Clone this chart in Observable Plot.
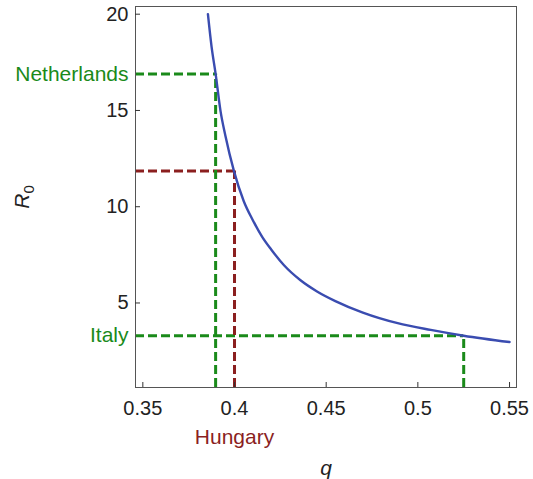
<!DOCTYPE html>
<html><head><meta charset="utf-8">
<script src="https://cdn.jsdelivr.net/npm/d3@7"></script>
<script src="https://cdn.jsdelivr.net/npm/@observablehq/plot@0.6"></script>
<style>body{margin:0;background:#fff} #chart svg{display:block}</style>
</head><body><div id="chart"></div>
<script>
// curve values
const curveQ  = [0.3855, 0.3875, 0.3897, 0.3924, 0.3950, 0.3997, 0.405, 0.410, 0.415, 0.420, 0.427, 0.436, 0.445, 0.455, 0.470, 0.489, 0.507, 0.525, 0.550];
const curveR0 = [20.0, 18.3, 16.9, 14.95, 13.7, 11.85, 10.3, 9.3, 8.45, 7.78, 6.96, 6.18, 5.6, 5.1, 4.5, 3.95, 3.6, 3.3, 2.97];

// countries
const countries = ["Netherlands", "Hungary", "Italy"];
const countryQ  = [0.3897, 0.400, 0.525];
const countryR0 = [16.9, 11.85, 3.3];
const countryColor = ["#1a8a1a", "#8b1f1f", "#1a8a1a"];
const labelSide = ["left", "bottom", "left"];

// axes
const xTicks = [0.35, 0.4, 0.45, 0.5, 0.55];
const yTicks = [5, 10, 15, 20];
const xDomain = [0.346, 0.5538];
const yDomain = [0.61, 20.4];

const curve = curveQ.map((q, i) => ({q, r: curveR0[i]}));
const pts = countries.map((name, i) => ({name, q: countryQ[i], r: countryR0[i], color: countryColor[i], side: labelSide[i]}));

const chart = Plot.plot({
  width: 533, height: 479,
  marginLeft: 135, marginRight: 17, marginTop: 6, marginBottom: 92,
  style: {fontFamily: "'Liberation Sans', Arial, sans-serif", fontSize: "20px", color: "#222", background: "#fff"},
  x: {domain: xDomain},
  y: {domain: yDomain},
  marks: [
    // dashed guide lines
    Plot.ruleY(pts, {y: "r", x1: xDomain[0], x2: "q", stroke: "color", strokeWidth: 3, strokeDasharray: "9,4"}),
    Plot.ruleX(pts, {x: "q", y1: yDomain[0], y2: "r", stroke: "color", strokeWidth: 3, strokeDasharray: "9,4"}),
    // curve
    Plot.line(curve, {x: "q", y: "r", stroke: "#3a4cb0", strokeWidth: 2.4, curve: "monotone-x"}),
    Plot.frame({stroke: "#555"}),
    // inward ticks
    Plot.axisY({ticks: yTicks, tickSize: 5, dx: 5, text: null, stroke: "#333", label: null}),
    Plot.axisX({ticks: xTicks, tickSize: 5, dy: -5, text: null, stroke: "#333", label: null}),
    // tick labels
    Plot.axisY({ticks: yTicks, tickSize: 0, tickPadding: 7, label: null, fontSize: 20}),
    Plot.axisX({ticks: xTicks, tickSize: 0, tickPadding: 13, label: null, fontSize: 20, tickFormat: d => String(d)}),
    // country labels
    Plot.text(pts.filter(d => d.side === "left"), {y: "r", text: "name", fill: "color", frameAnchor: "left", dx: -7, textAnchor: "end", fontSize: 21}),
    Plot.text(pts.filter(d => d.side === "bottom"), {x: "q", text: "name", fill: "color", frameAnchor: "bottom", dy: 50, lineAnchor: "middle", fontSize: 21}),
    // axis titles
    Plot.text(["q"], {text: d => d, frameAnchor: "bottom", dy: 81, lineAnchor: "middle", fontStyle: "italic", fontSize: 21}),
    Plot.text(["R0"], {text: d => d, frameAnchor: "left", dx: -113, rotate: -90, textAnchor: "middle", lineAnchor: "middle", fontSize: 21})
  ]
});
document.getElementById("chart").appendChild(chart);

// R with upright subscript 0
d3.select(chart).selectAll("text").filter(function() { return this.textContent === "R0"; })
  .each(function() {
    const t = d3.select(this);
    t.text(null);
    t.append("tspan").attr("font-style", "italic").text("R");
    t.append("tspan").attr("font-size", "15px").attr("dy", "0.3em").text("0");
  });
</script>
</body></html>
